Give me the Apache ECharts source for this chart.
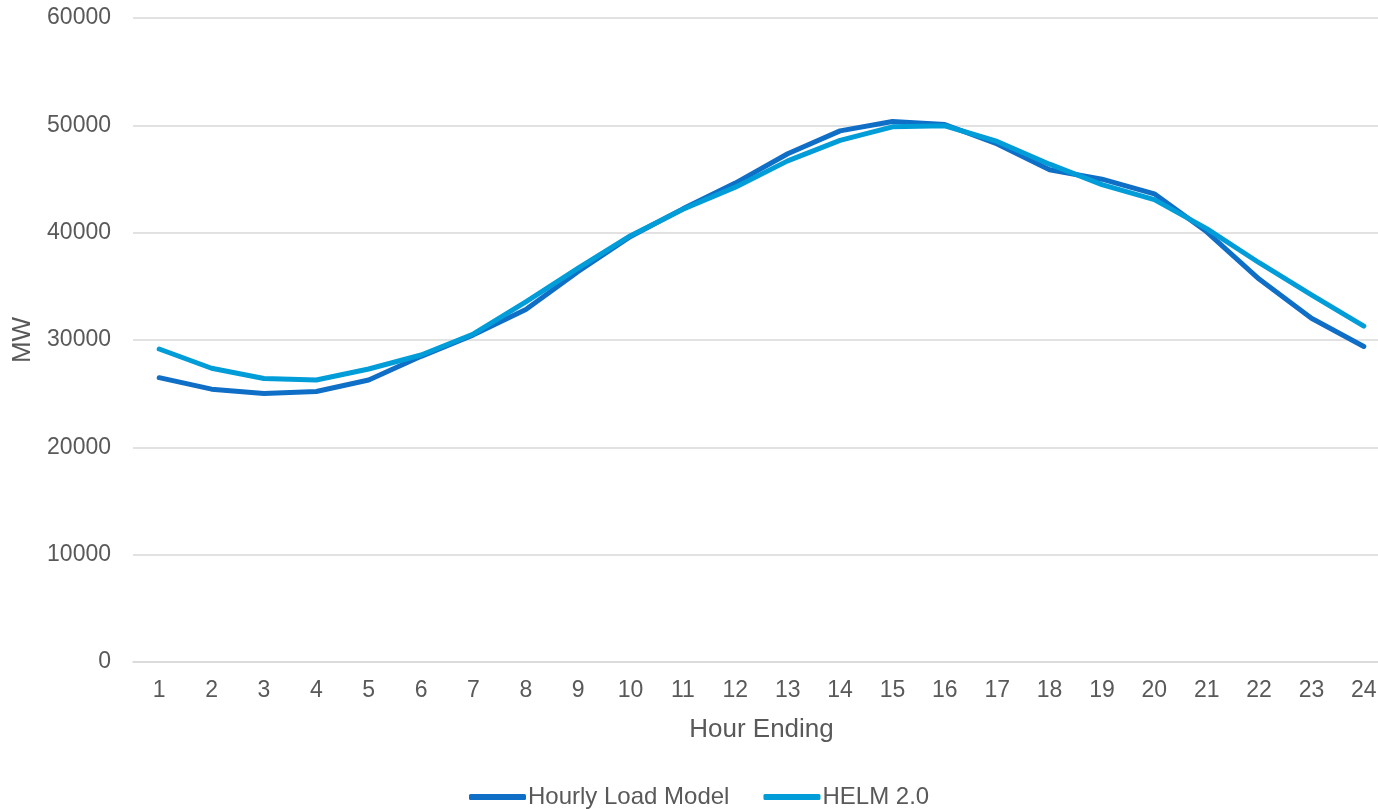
<!DOCTYPE html>
<html>
<head>
<meta charset="utf-8">
<title>Hourly load profile</title>
<script src="https://cdn.jsdelivr.net/npm/echarts@6/dist/echarts.min.js"></script>
<style>
  html, body { margin: 0; padding: 0; background: #ffffff; }
  #chart { width: 1378px; height: 809px; }
</style>
</head>
<body>
<div id="chart"></div>
<script>
// Hour-ending categories
const hours = ['1','2','3','4','5','6','7','8','9','10','11','12','13','14','15','16','17','18','19','20','21','22','23','24'];

// Load in MW for each hour
const hourlyLoadModel = [26490, 25420, 25020, 25200, 26270, 28480, 30480, 32850, 36380, 39650, 42220, 44620, 47350, 49480, 50360, 50080, 48260, 45860, 44980, 43620, 40080, 35680, 32030, 29400];
const helm20 = [29160, 27370, 26410, 26270, 27300, 28600, 30560, 33560, 36700, 39720, 42180, 44240, 46690, 48600, 49860, 49960, 48500, 46380, 44470, 43080, 40380, 37200, 34200, 31300];

// Value axis ticks
const yMin = 0;
const yMax = 60000;
const yStep = 10000;

const textColor = '#595959';
const gridColor = '#d9d9d9';
const fontFamily = '"Liberation Sans", Arial, sans-serif';

const chart = echarts.init(document.getElementById('chart'));
chart.setOption({
  animation: false,
  backgroundColor: '#ffffff',
  textStyle: { fontFamily: fontFamily },
  color: ['#0f6fc6', '#009dd9'],
  grid: {
    left: 133, right: -12, top: 18, bottom: 147,
    containLabel: false,
    outerBoundsMode: 'none'
  },
  legend: {
    bottom: -5,
    left: 464,
    itemWidth: 57,
    itemHeight: 6,
    itemGap: 34,
    icon: 'roundRect',
    textStyle: { color: textColor, fontSize: 24, fontFamily: fontFamily, padding: [0, 0, 0, -3] },
    data: ['Hourly Load Model', 'HELM 2.0']
  },
  xAxis: {
    type: 'category',
    data: hours,
    boundaryGap: true,
    name: 'Hour Ending',
    nameLocation: 'middle',
    nameGap: 55,
    nameTextStyle: { color: textColor, fontSize: 26, fontFamily: fontFamily },
    axisLine: { show: true, lineStyle: { color: gridColor, width: 1.5 } },
    axisTick: { show: false },
    axisLabel: { color: textColor, fontSize: 23, margin: 17, fontFamily: fontFamily },
    splitLine: { show: false }
  },
  yAxis: {
    type: 'value',
    min: yMin,
    max: yMax,
    interval: yStep,
    name: 'MW',
    nameLocation: 'middle',
    nameGap: 97,
    nameRotate: 90,
    nameTextStyle: { color: textColor, fontSize: 26, fontFamily: fontFamily },
    axisLine: { show: false },
    axisTick: { show: false },
    axisLabel: {
      color: textColor, fontSize: 23, margin: 22, fontFamily: fontFamily,
      formatter: function (v) { return String(v); }
    },
    splitLine: { show: true, lineStyle: { color: gridColor, width: 1.5 } }
  },
  series: [
    {
      name: 'Hourly Load Model',
      type: 'line',
      data: hourlyLoadModel,
      showSymbol: false,
      symbol: 'none',
      lineStyle: { width: 5, cap: 'round', join: 'round' }
    },
    {
      name: 'HELM 2.0',
      type: 'line',
      data: helm20,
      showSymbol: false,
      symbol: 'none',
      lineStyle: { width: 5, cap: 'round', join: 'round' }
    }
  ]
});
</script>
</body>
</html>
